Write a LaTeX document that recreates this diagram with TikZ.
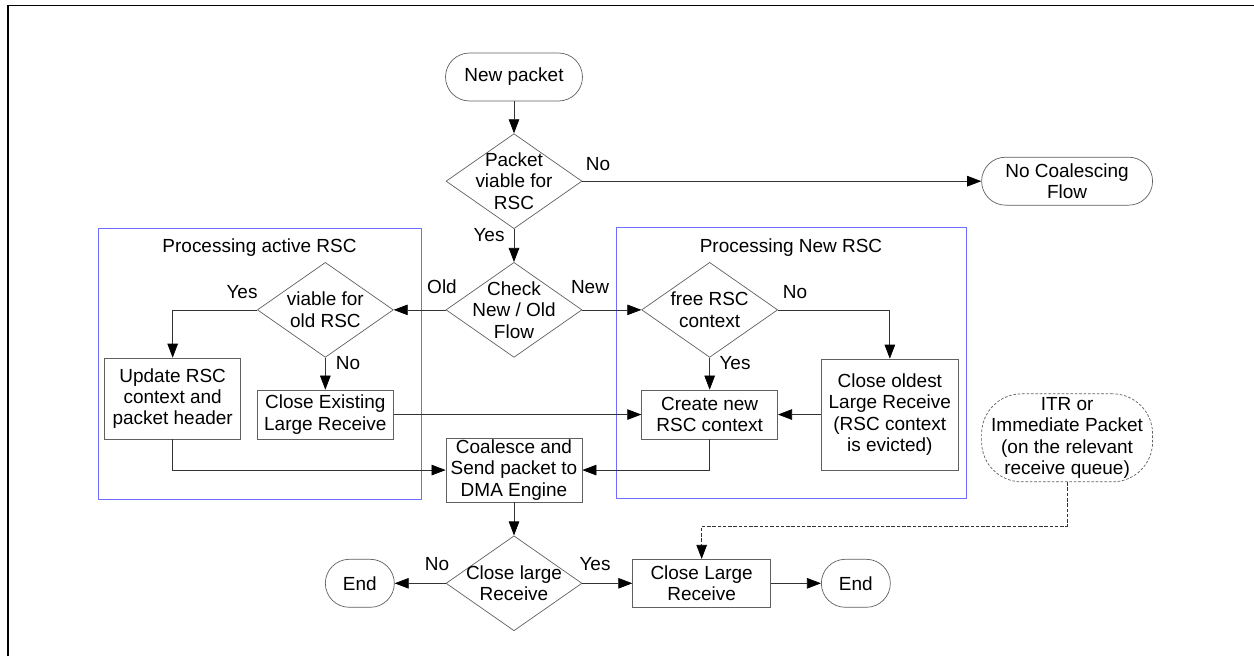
\documentclass[tikz,border=0pt]{standalone}
\usepackage{fontspec}
\setmainfont{Liberation Sans}
\usetikzlibrary{shapes.geometric,arrows.meta,positioning}
\definecolor{shapegray}{RGB}{96,96,96}
\definecolor{groupblue}{RGB}{110,110,255}

\begin{document}
\begin{tikzpicture}[x=0.02cm, y=-0.02cm, font=\fontsize{10.8}{12.2}\selectfont,
    terminal/.style={draw=shapegray, rounded corners=0.48cm, minimum width=2.74cm, minimum height=0.96cm, align=center, inner sep=1pt},
    decision/.style={draw=shapegray, diamond, aspect=1.43, minimum width=2.72cm, minimum height=1.9cm, inner sep=-3.8pt, align=center},
    procbox/.style={draw=shapegray, minimum width=2.72cm, align=center, inner sep=1pt},
    groupframe/.style={draw=groupblue, minimum height=5.42cm},
    lbl/.style={inner sep=1pt},
    flow/.style={draw=black!80, -{Triangle[length=8pt,width=6pt,color=black]}}]
        \useasboundingbox (0,0) rectangle (1254,656);
        \draw[line width=1.1pt] (8,656) -- (8,5.5) -- (1254,5.5);

        % processing groups
        \node[groupframe, minimum width=6.46cm] (activegrp) at (259.5,363.5) {};
        \node[groupframe, minimum width=7.0cm] (newgrp) at (791,363) {};
        \node[below=0.1cm of activegrp.north] (activetitle) {Processing active RSC};
        \node[below=0.1cm of newgrp.north] (newtitle) {Processing New RSC};

        % main column
        \node[terminal] (newpkt) at (514,77) {New packet};
        \node[decision, below=0.64cm of newpkt] (viable) {Packet\\viable for\\RSC};
        \node[terminal, minimum width=3.42cm, right=7.98cm of viable] (nocoal) {No Coalescing\\Flow};
        \node[decision, below=0.66cm of viable] (check) {Check\\New / Old\\Flow};
        \node[decision, left=1.04cm of check] (oldrsc) {viable for\\old RSC};
        \node[decision, right=1.18cm of check] (freersc) {free RSC\\context};
        \node[procbox, minimum height=0.98cm, below=0.64cm of oldrsc] (exist) {Close Existing\\Large Receive};
        \node[procbox, minimum height=1.62cm, left=0.32cm of exist.south west, anchor=south east] (update) {Update RSC\\context and\\packet header};
        \node[procbox, minimum height=0.98cm, below=0.64cm of freersc] (create) {Create new\\RSC context};
        \node[procbox, minimum width=2.74cm, minimum height=2.22cm, right=0.86cm of create] (oldest) {Close oldest\\Large Receive\\(RSC context\\is evicted)};
        \node[procbox, minimum height=1.28cm, below=1.6cm of check] (coalesce) {Coalesce and\\Send packet to\\DMA Engine};
        \node[decision, below=0.66cm of coalesce] (closelr) {Close large\\Receive};
        \node[terminal, minimum width=1.38cm, left=1.02cm of closelr] (endL) {End};
        \node[procbox, minimum width=2.76cm, minimum height=0.96cm, right=1.0cm of closelr] (closeL) {Close Large\\Receive};
        \node[terminal, minimum width=1.38cm, right=1.0cm of closeL] (endR) {End};
        \node[terminal, dash pattern=on 1.5pt off 1pt, minimum width=3.42cm, minimum height=1.76cm, rounded corners=0.8cm, below=3.76cm of nocoal] (itr) {ITR or\\Immediate Packet\\(on the relevant\\receive queue)};

        % branch labels
        \node[lbl] (noA) at (598,164) {No};
        \node[lbl] (yesA) at (489,235) {Yes};
        \node[lbl] (oldL) at (442,287) {Old};
        \node[lbl] (newL) at (590,287) {New};
        \node[lbl] (yesB) at (242,292) {Yes};
        \node[lbl] (noB) at (348,363) {No};
        \node[lbl] (noC) at (795,292) {No};
        \node[lbl] (yesC) at (735,363) {Yes};
        \node[lbl] (noD) at (437,564) {No};
        \node[lbl] (yesD) at (595,564) {Yes};

        % connectors
        \draw[flow] (newpkt) -- (viable);
        \draw[flow] (viable) -- (nocoal);
        \draw[flow] (viable) -- (check);
        \draw[flow] (check) -- (oldrsc);
        \draw[flow] (check) -- (freersc);
        \draw[flow] (oldrsc.west) -| (update.north);
        \draw[flow] (oldrsc) -- (exist);
        \draw[flow] (freersc.east) -| (oldest.north);
        \draw[flow] (freersc) -- (create);
        \draw[flow] (oldest.west |- create) -- (create.east);
        \draw[flow] (exist) -- (create);
        \draw[flow] (update.south) |- (coalesce.west);
        \draw[flow] (create.south) |- (coalesce.east);
        \draw[flow] (coalesce) -- (closelr);
        \draw[flow] (closelr) -- (endL);
        \draw[flow] (closelr) -- (closeL);
        \draw[flow] (closeL) -- (endR);
        \draw[flow, dash pattern=on 2pt off 1pt] (itr.south) -- ++(0,44) -| (closeL.north);
      \end{tikzpicture}
\end{document}
